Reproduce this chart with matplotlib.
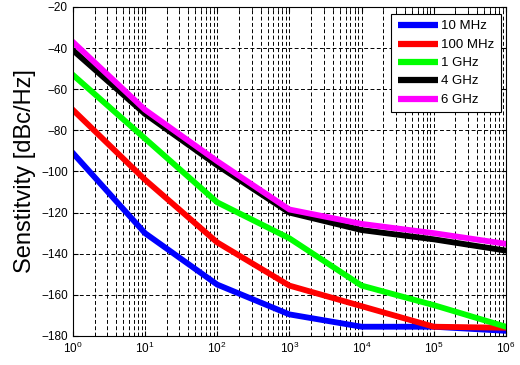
import numpy as np
from matplotlib import pyplot as plt

plt.rcParams['font.family'] = ['Liberation Sans', 'DejaVu Sans']

# offset frequency [Hz]
freqs = [1, 10, 100, 1e3, 1e4, 1e5, 1e6]

# sensitivity [dBc/Hz] per carrier
sens_10mhz = [-91, -130, -155, -169.5, -175.5, -175.5, -177.5]
sens_100mhz = [-70, -104, -134.5, -155.5, -165.5, -175.5, -176]
sens_1ghz = [-53, -84, -115, -132.5, -155.5, -165, -175.5]
sens_4ghz = [-41, -72, -97, -120, -128.5, -133, -138.5]
sens_6ghz = [-37, -70, -95, -118.5, -125.5, -130, -135.2]

labels = ['10 MHz', '100 MHz', '1 GHz', '4 GHz', '6 GHz']
colors = ['#0000ff', '#ff0000', '#00ff00', '#000000', '#ff00ff']
yticks = np.arange(-180, -19, 20)

fig = plt.figure(figsize=(5.2, 3.65), dpi=100)
ax = fig.add_axes([0.140, 0.0795, 0.833, 0.9015])

for s, lab, c in zip([sens_10mhz, sens_100mhz, sens_1ghz, sens_4ghz, sens_6ghz],
                     labels, colors):
    ax.semilogx(freqs, s, color=c, lw=4.2, label=lab, solid_joinstyle='miter')

ax.set_xlim(1, 1e6)
ax.set_ylim(-180, -20)
ax.set_yticks(yticks)
ax.set_xticks([1, 10, 100, 1e3, 1e4, 1e5, 1e6])
ax.grid(True, which='major', color='k', ls=(0, (4, 2.5)), lw=0.7)
ax.grid(True, which='minor', axis='x', color='k', ls=(0, (4, 2.5)), lw=0.7)
ax.tick_params(which='both', direction='in', top=True, right=True, labelsize=8.5)
ax.tick_params(which='minor', length=2)
ax.set_ylabel('Senstitvity [dBc/Hz]', fontsize=17)
for sp in ax.spines.values():
    sp.set_color('k')
    sp.set_linewidth(0.8)

leg = ax.legend(loc='upper right', bbox_to_anchor=(0.988, 0.979),
                borderaxespad=0, fontsize=9.5, handlelength=3.0,
                handletextpad=0.25, handleheight=0.5, borderpad=0.5,
                fancybox=False, framealpha=1, edgecolor='k',
                labelspacing=0.48)
leg.get_frame().set_linewidth(0.8)
for h in leg.get_lines():
    h.set_linewidth(4.5)
    h.set_solid_capstyle('butt')

fig.savefig('out.png', dpi=100)
